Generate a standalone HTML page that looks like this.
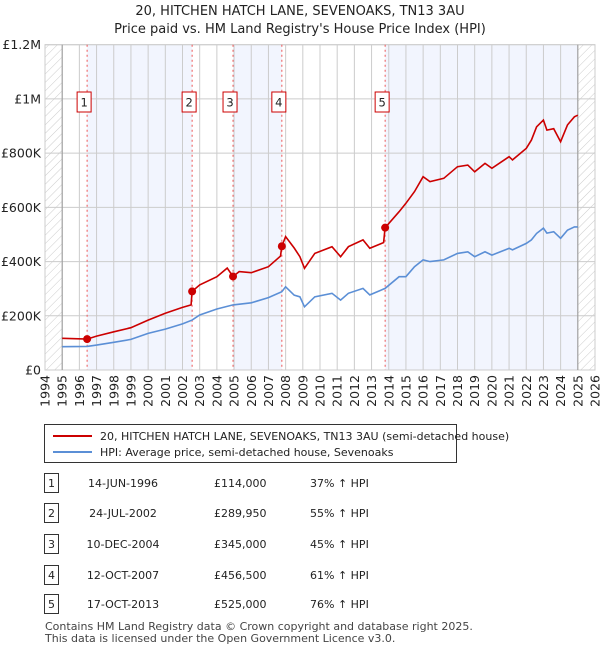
<!DOCTYPE html>
<html><head><meta charset="utf-8"><style>
body{margin:0;background:#fff;font-family:"Liberation Sans","DejaVu Sans",sans-serif;}
#wrap{position:relative;width:600px;height:650px;overflow:hidden;}
svg text{font-family:"DejaVu Sans","Liberation Sans",sans-serif;}
</style></head><body>
<div id="wrap">
<svg id="chart" width="600" height="650"></svg>
</div>
<script>
const saleYears=[1996.45,2002.56,2004.94,2007.78,2013.79];
const salePrices=[114000,289950,345000,456500,525000];
const saleDates=["14-JUN-1996","24-JUL-2002","10-DEC-2004","12-OCT-2007","17-OCT-2013"];
const salePriceLabels=["£114,000","£289,950","£345,000","£456,500","£525,000"];
const saleHpiLabels=["37% ↑ HPI","55% ↑ HPI","45% ↑ HPI","61% ↑ HPI","76% ↑ HPI"];
const hpiYears=[1995,1996.45,1997,1998,1999,2000,2001,2002,2002.56,2003,2004,2004.94,2006,2007,2007.78,2008,2008.5,2008.83,2009.1,2009.7,2010.7,2011.2,2011.65,2012.5,2012.9,2013.79,2014.6,2015,2015.5,2016,2016.4,2017.2,2018,2018.6,2019,2019.6,2020,2021,2021.2,2022,2022.3,2022.6,2023,2023.2,2023.6,2024,2024.4,2024.8,2025];
const hpiValues=[86,87,92,102,113,135,151,170,184,203,225,240,248,267,289,307,276,270,233,270,283,258,283,301,277,301,344,344,381,406,400,406,430,436,418,436,424,449,443,467,480,504,523,505,510,486,516,528,528];
const redYears=[1995,1996.45,1997,1998,1999,2000,2001,2002,2002.5,2002.56,2003,2004,2004.6,2004.94,2005.3,2006,2007,2007.7,2007.78,2008,2008.5,2008.83,2009.1,2009.7,2010.7,2011.2,2011.65,2012.5,2012.9,2013.7,2013.79,2014.6,2015,2015.5,2016,2016.4,2017.2,2018,2018.6,2019,2019.6,2020,2021,2021.2,2022,2022.3,2022.6,2023,2023.2,2023.6,2024,2024.4,2024.8,2025];
const redValues=[117,114,125,141,156,184,209,231,240,289.95,314,344,376,345,363,359,381,420,456.5,492,450,418,375,430,455,418,455,480,449,470,525,584,615,658,713,695,707,750,756,731,762,744,787,775,818,848,897,922,885,890,842,904,934,940];
const yTicks=[0,200000,400000,600000,800000,1000000,1200000];
const yTickLabels=["£0","£200K","£400K","£600K","£800K","£1M","£1.2M"];
const xTicks=[1994,1995,1996,1997,1998,1999,2000,2001,2002,2003,2004,2005,2006,2007,2008,2009,2010,2011,2012,2013,2014,2015,2016,2017,2018,2019,2020,2021,2022,2023,2024,2025,2026];

const L=45,R=595,T=44.7,B=370;
const X=y=>L+(y-1994)*(R-L)/32;
const Y=v=>B-v*(B-T)/1200000;
const NS="http://www.w3.org/2000/svg";
const svg=document.getElementById('chart');
function mk(tag,attrs,parent){const e=document.createElementNS(NS,tag);for(const k in attrs)e.setAttribute(k,attrs[k]);(parent||svg).appendChild(e);return e;}

// defs hatch
const defs=mk('defs',{});
const pat=mk('pattern',{id:'hatch',width:6,height:6,patternUnits:'userSpaceOnUse',patternTransform:'rotate(45)'},defs);
mk('line',{x1:0,y1:0,x2:0,y2:6,stroke:'#ccc','stroke-width':1},pat);

// title
let t=mk('text',{x:300,y:15,'text-anchor':'middle','font-size':13,fill:'#222'});t.textContent="20, HITCHEN HATCH LANE, SEVENOAKS, TN13 3AU";

t=mk('text',{x:300,y:33,'text-anchor':'middle','font-size':13,fill:'#222'});t.textContent="Price paid vs. HM Land Registry's House Price Index (HPI)";


// plot bg
let r=mk('rect',{x:L,y:T,width:R-L,height:B-T,fill:'#fff',stroke:'#ccc'});

// shaded bands
const bandStarts=[saleYears[0],saleYears[2],saleYears[4]];
const bandEnds=[saleYears[1],saleYears[3],2025];
for(let i=0;i<bandStarts.length;i++){const b=mk('rect',{x:X(bandStarts[i]),y:T,width:X(bandEnds[i])-X(bandStarts[i]),height:B-T,fill:'#eef2fd',opacity:0.75});
}
// hatch areas
r=mk('rect',{x:L,y:T,width:X(1995)-L,height:B-T,fill:'url(#hatch)'});

r=mk('rect',{x:X(2025),y:T,width:R-X(2025),height:B-T,fill:'url(#hatch)'});


// grid
xTicks.forEach(yr=>{const g=mk('line',{x1:X(yr),x2:X(yr),y1:T,y2:B,stroke:'#ccc','stroke-width':1});

const lb=mk('text',{transform:`translate(${X(yr)+4.5},${B+5}) rotate(-90)`,'text-anchor':'end','font-size':12.5,fill:'#222'});lb.textContent=yr;
});
yTicks.forEach((v,i)=>{const g=mk('line',{x1:L,x2:R,y1:Y(v),y2:Y(v),stroke:'#ccc','stroke-width':1});

const lb=mk('text',{x:L-4,y:Y(v)+4.5,'text-anchor':'end','font-size':12.5,fill:'#222'});lb.textContent=yTickLabels[i];
});
let ax=mk('line',{x1:X(1995),x2:X(1995),y1:T,y2:B,stroke:'#999'});
ax=mk('line',{x1:X(2025),x2:X(2025),y1:T,y2:B,stroke:'#999'});

// sale lines & labels
saleYears.forEach((yr,i)=>{const l=mk('line',{x1:X(yr),x2:X(yr),y1:T,y2:B,stroke:'#e55','stroke-width':1,'stroke-dasharray':'2,3'});

const bx=mk('rect',{x:X(yr)-10,y:92,width:14,height:20,fill:'#fff',stroke:'#c00','stroke-width':1});

const tx=mk('text',{x:X(yr)-3,y:106.5,'text-anchor':'middle','font-size':11.5,fill:'#222'});tx.textContent=i+1;
});

// lines
let d=hpiYears.map((yr,i)=>(i?'L':'M')+X(yr).toFixed(1)+','+Y(hpiValues[i]*1000).toFixed(1)).join('');
let p=mk('path',{d:d,fill:'none',stroke:'#5b8fd6','stroke-width':1.6});

d=redYears.map((yr,i)=>(i?'L':'M')+X(yr).toFixed(1)+','+Y(redValues[i]*1000).toFixed(1)).join('');
p=mk('path',{d:d,fill:'none',stroke:'#cc0000','stroke-width':1.6});

saleYears.forEach((yr,i)=>{const c=mk('circle',{cx:X(yr),cy:Y(salePrices[i]),r:4,fill:'#cc0000'});
});

// legend
let lg=mk('rect',{x:44.5,y:424.5,width:412,height:38,fill:'#fff',stroke:'#333'});

let ll=mk('line',{x1:53,x2:92,y1:436,y2:436,stroke:'#cc0000','stroke-width':2});
let lt=mk('text',{x:100,y:440,'font-size':11,fill:'#222'});lt.textContent="20, HITCHEN HATCH LANE, SEVENOAKS, TN13 3AU (semi-detached house)";

ll=mk('line',{x1:53,x2:92,y1:452,y2:452,stroke:'#5b8fd6','stroke-width':2});
lt=mk('text',{x:100,y:456,'font-size':11,fill:'#222'});lt.textContent="HPI: Average price, semi-detached house, Sevenoaks";


// table
const rowY=[483,513,544,575,604];
saleDates.forEach((dt,i)=>{const y=rowY[i];
const b=mk('rect',{x:44.5,y:y-9.5,width:14,height:19,fill:'#fff',stroke:'#333'});

let tt=mk('text',{x:51.5,y:y+4,'text-anchor':'middle','font-size':11,fill:'#222'});tt.textContent=i+1;

tt=mk('text',{x:123,y:y+4,'text-anchor':'middle','font-size':11,fill:'#222'});tt.textContent=dt;

tt=mk('text',{x:214,y:y+4,'font-size':11,fill:'#222'});tt.textContent=salePriceLabels[i];

tt=mk('text',{x:310,y:y+4,'font-size':11,fill:'#222'});tt.textContent=saleHpiLabels[i];
});

let f=mk('text',{x:45,y:630,'font-size':11,fill:'#444'});f.textContent="Contains HM Land Registry data © Crown copyright and database right 2025.";

f=mk('text',{x:45,y:642,'font-size':11,fill:'#444'});f.textContent="This data is licensed under the Open Government Licence v3.0.";

</script>
</body></html>
